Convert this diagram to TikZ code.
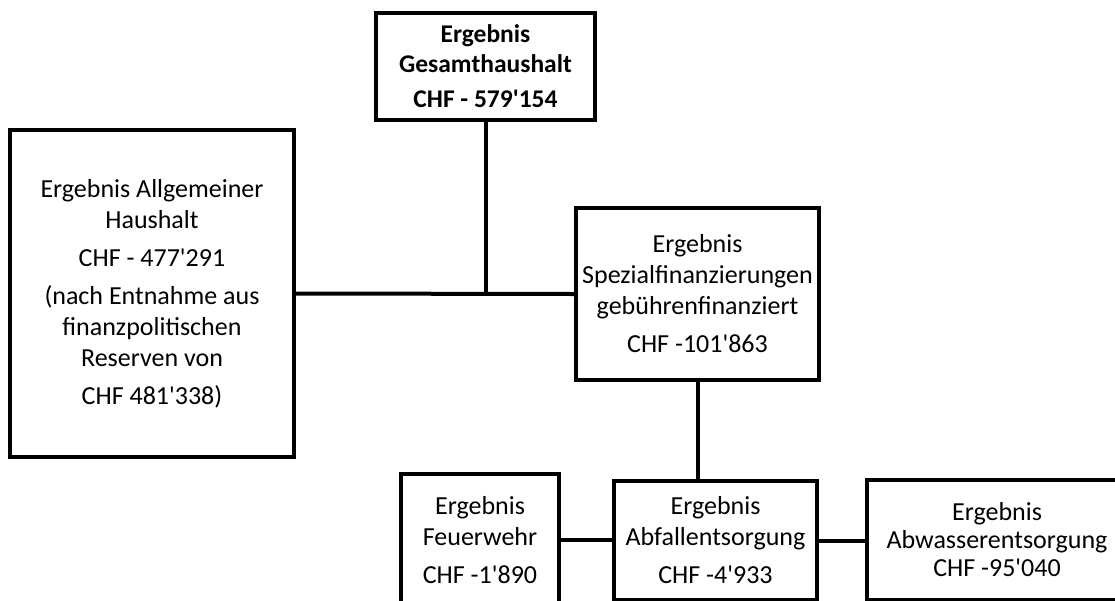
\documentclass[tikz,border=0pt]{standalone}
\usepackage{fontspec}
\newfontfamily\carl{Carlito}
\begin{document}
\begin{tikzpicture}[x=1pt,y=-1pt,
  box/.style={draw, line width=4pt, rectangle, inner sep=0pt, align=center,
    font=\carl\fontsize{26}{31}\selectfont},
  link/.style={line width=4pt}]
\useasboundingbox (0,0) rectangle (1115,600);
\node[box, minimum width=219pt, minimum height=107pt, font=\carl\bfseries\fontsize{25.5}{30}\selectfont] (top) at (485.5,66.5)
  {Ergebnis\\Gesamthaushalt\\[5pt]CHF - 579'154};
\node[box, minimum width=284pt, minimum height=327pt] (left) at (152,293.5)
  {Ergebnis Allgemeiner\\Haushalt\\[7pt]CHF - 477'291\\[7pt](nach Entnahme aus\\finanzpolitischen\\Reserven von\\[7pt]CHF 481'338)};
\node[box, minimum width=243pt, minimum height=172pt] (spez) at (697.5,294)
  {Ergebnis\\Spezialfinanzierungen\\gebührenfinanziert\\[7pt]CHF -101'863};
\node[box, minimum width=158pt, minimum height=132pt] (feuer) at (480,540)
  {Ergebnis\\Feuerwehr\\[7pt]CHF -1'890};
\node[box, minimum width=203pt, minimum height=119pt] (abfall) at (715.5,540.5)
  {Ergebnis\\Abfallentsorgung\\[7pt]CHF -4'933};
\node[box, minimum width=260pt, minimum height=120pt, font=\carl\fontsize{26}{28}\selectfont] (abwasser) at (997,540)
  {Ergebnis\\Abwasserentsorgung\\CHF -95'040};
\draw[link] (left.east) -- (spez.west);
\draw[link] (top.south) -- (top.south |- left.east);
\draw[link] (spez.south) -- (spez.south |- abfall.north);
\draw[link] (feuer.east) -- (feuer.east -| abfall.west);
\draw[link] (abfall.east) -- (abfall.east -| abwasser.west);
\end{tikzpicture}
\end{document}
